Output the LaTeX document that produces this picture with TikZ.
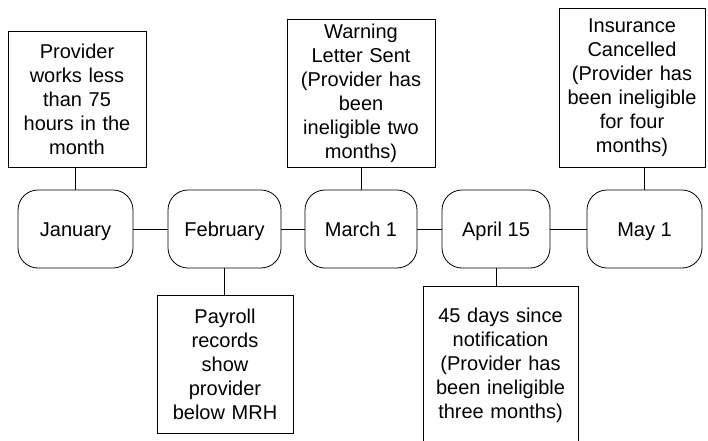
\documentclass[tikz,border=0pt]{standalone}
\usepackage{fontspec}
\setmainfont{Liberation Sans}
\begin{document}
\begin{tikzpicture}[x=1pt,y=-1pt,
  every node/.style={font=\fontsize{20}{24}\selectfont, inner sep=0pt},
  month/.style={draw, line width=0.8pt, rounded corners=20pt, minimum width=#1, minimum height=78pt, text height=18.4pt, text depth=4pt},
  note/.style args={#1/#2}{draw, line width=0.8pt, minimum width=#1, minimum height=#2, text width=#1-8pt, align=center},
  link/.style={line width=0.8pt}]
\useasboundingbox (0,0) rectangle (708,440);
\clip (0,0) rectangle (708,440);
\node[month=115pt] (jan) at (75.5,229) {January};
\node[month=113pt] (feb) at (224.5,229) {February};
\node[month=112pt] (mar) at (361,229) {March 1};
\node[month=108pt] (apr) at (496,229) {April 15};
\node[month=115pt] (may) at (644.5,229) {May 1};
\node[note=138pt/136pt] (prov) at (77,99) {Provider\\works less\\than 75\\hours in the\\month};
\node[note=148pt/148pt] (warn) at (361,93) {Warning\\Letter Sent\\(Provider has\\been\\ineligible two\\months)};
\node[note=146pt/159pt] (ins) at (632,87.5) {Insurance\\Cancelled\\(Provider has\\been ineligible\\for four\\months)};
\node[note=136pt/138pt] (pay) at (225,364) {Payroll\\records\\show\\provider\\below MRH};
\node[note=155pt/159pt] (days) at (500.5,365.5) {45 days since\\notification\\(Provider has\\been ineligible\\three months)};
\draw[link] (jan.east) -- (feb.west);
\draw[link] (feb.east) -- (mar.west);
\draw[link] (mar.east) -- (apr.west);
\draw[link] (apr.east) -- (may.west);
\draw[link] (jan.north) -- (jan.north |- prov.south);
\draw[link] (mar.north) -- (mar.north |- warn.south);
\draw[link] (may.north) -- (may.north |- ins.south);
\draw[link] (feb.south) -- (feb.south |- pay.north);
\draw[link] (apr.south) -- (apr.south |- days.north);
\end{tikzpicture}
\end{document}
